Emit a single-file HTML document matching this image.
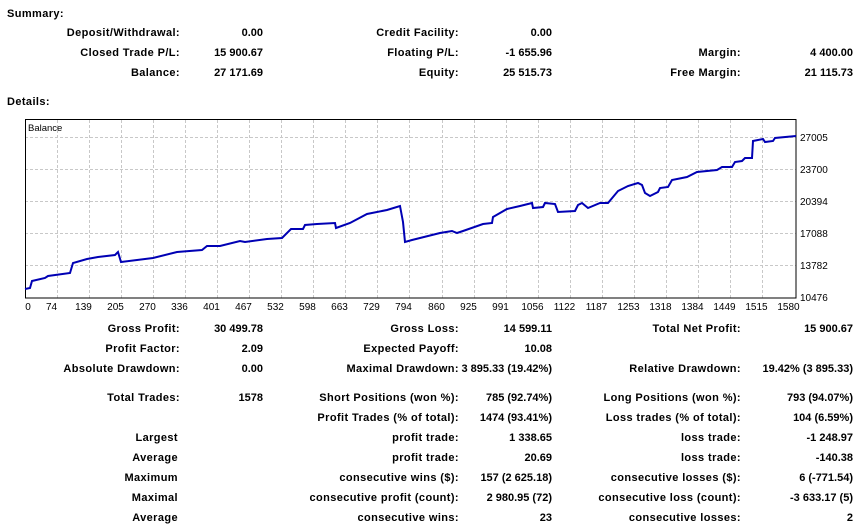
<!DOCTYPE html>
<html><head><meta charset="utf-8"><style>
body{margin:0;width:861px;height:527px;background:#fff;position:relative;overflow:hidden;font-family:"Liberation Sans",sans-serif;}
.t{position:absolute;font-size:11px;font-weight:bold;line-height:14px;white-space:nowrap;color:#000;letter-spacing:0.4px;}
.v{letter-spacing:0;}
.r{text-align:right;}
</style></head><body>
<div class="t" style="left:7px;top:7px">Summary:</div>
<div class="t" style="left:7px;top:95px">Details:</div>
<svg style="position:absolute;left:0;top:0" width="861" height="527">
<g stroke="#c8c8c8" stroke-dasharray="3,2" stroke-width="1">
<line x1="25" y1="137.5" x2="796" y2="137.5"/><line x1="25" y1="169.5" x2="796" y2="169.5"/><line x1="25" y1="201.5" x2="796" y2="201.5"/><line x1="25" y1="233.5" x2="796" y2="233.5"/><line x1="25" y1="265.5" x2="796" y2="265.5"/>
<g id="vg"></g>
</g>
<rect x="25.5" y="119.5" width="770.5" height="178.5" fill="none" stroke="#000"/>
<text x="28" y="131" font-family="Liberation Sans" font-size="9.5">Balance</text>
<polyline fill="none" stroke="#0000b4" stroke-width="2" points="25,289 30,288 32,281 45,278 48,276 70,273 73,263 87,259 98,257 115,255 118,252 121,262 153,258 177,252 202,250 207,246 220,246 240,241 245,242 267,239 282,238 291,229 303,229 305,225 317,224 335,223 336,228 350,223 367,214 387,210 400,206 403,222 405,242 412,240 420,238 440,233 452,231 457,233 463,231 483,224 492,223 493,217 500,213 507,209 520,206 532,203 533,208 543,207 545,203 555,204 558,212 575,211 578,205 582,203 588,208 600,203 608,203 618,191 628,186 638,183 642,185 645,193 650,196 658,192 660,188 668,187 672,180 687,177 697,172 717,170 722,167 732,167 735,162 742,161 745,158 752,158 753,141 763,139 765,142 773,141 775,138 796,136"/>
<g font-family="Liberation Sans" font-size="10" fill="#000">
<text x="800" y="141">27005</text><text x="800" y="173">23700</text><text x="800" y="205">20394</text><text x="800" y="237">17088</text><text x="800" y="269">13782</text><text x="800" y="301">10476</text>
</g>
<g id="xl" font-family="Liberation Sans" font-size="10" fill="#000" text-anchor="middle"></g>
</svg>
<script>
var vg=document.getElementById('vg'),xl=document.getElementById('xl');
var labs=[0,74,139,205,270,336,401,467,532,598,663,729,794,860,925,991,1056,1122,1187,1253,1318,1384,1449,1515,1580];
var ns='http://www.w3.org/2000/svg';
for(var i=0;i<labs.length;i++){var x=Math.round(25+32.04*i)+0.5;
if(i>0&&i<24){var l=document.createElementNS(ns,'line');l.setAttribute('x1',x);l.setAttribute('x2',x);l.setAttribute('y1',120);l.setAttribute('y2',298);vg.appendChild(l);}
var t=document.createElementNS(ns,'text');t.setAttribute('x',i==0?28:x-6);t.setAttribute('y',310);t.textContent=labs[i];xl.appendChild(t);}
var rows=[
[33,"Deposit/Withdrawal:","0.00","Credit Facility:","0.00","",""],
[53,"Closed Trade P/L:","15 900.67","Floating P/L:","-1 655.96","Margin:","4 400.00"],
[73,"Balance:","27 171.69","Equity:","25 515.73","Free Margin:","21 115.73"],
[329,"Gross Profit:","30 499.78","Gross Loss:","14 599.11","Total Net Profit:","15 900.67"],
[349,"Profit Factor:","2.09","Expected Payoff:","10.08","",""],
[369,"Absolute Drawdown:","0.00","Maximal Drawdown:","3 895.33 (19.42%)","Relative Drawdown:","19.42% (3 895.33)"],
[398,"Total Trades:","1578","Short Positions (won %):","785 (92.74%)","Long Positions (won %):","793 (94.07%)"],
[418,"","","Profit Trades (% of total):","1474 (93.41%)","Loss trades (% of total):","104 (6.59%)"],
[438,"Largest","","profit trade:","1 338.65","loss trade:","-1 248.97"],
[458,"Average","","profit trade:","20.69","loss trade:","-140.38"],
[478,"Maximum","","consecutive wins ($):","157 (2 625.18)","consecutive losses ($):","6 (-771.54)"],
[498,"Maximal","","consecutive profit (count):","2 980.95 (72)","consecutive loss (count):","-3 633.17 (5)"],
[518,"Average","","consecutive wins:","23","consecutive losses:","2"]];
var rights=[180,263,459,552,741,853];
rows.forEach(function(r){for(var c=0;c<6;c++){if(!r[c+1])continue;var d=document.createElement('div');d.className='t r'+(c%2?' v':'');
var rt=rights[c];if(c==0&&r[1].indexOf(':')<0)rt=178;
d.style.right=(861-rt)+'px';d.style.top=(r[0]-7)+'px';d.textContent=r[c+1];document.body.appendChild(d);}});
</script>
</body></html>
